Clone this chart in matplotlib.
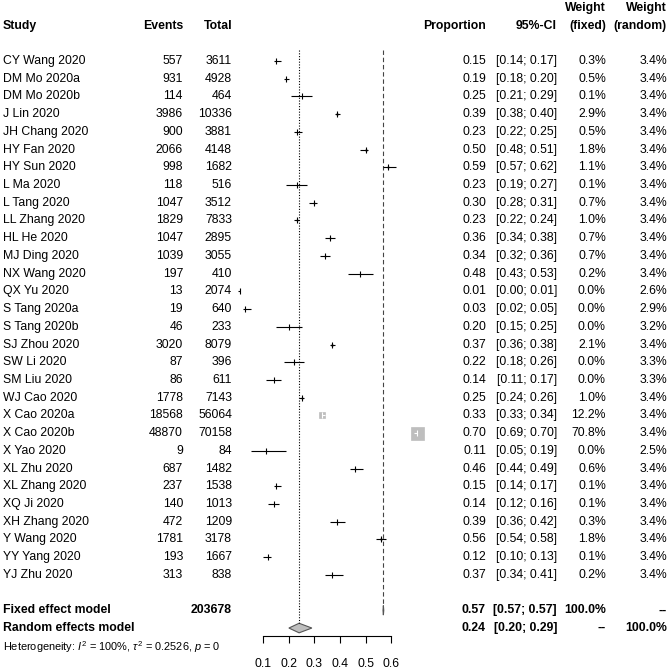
import numpy as np
import matplotlib.pyplot as plt
from matplotlib.patches import Polygon

plt.rcParams['font.family'] = ['Liberation Sans', 'DejaVu Sans']
plt.rcParams['mathtext.fontset'] = 'custom'
plt.rcParams['mathtext.rm'] = 'Liberation Sans'
plt.rcParams['mathtext.it'] = 'Liberation Sans:italic'

studies = ["CY Wang 2020", "DM Mo 2020a", "DM Mo 2020b", "J Lin 2020", "JH Chang 2020",
           "HY Fan 2020", "HY Sun 2020", "L Ma 2020", "L Tang 2020", "LL Zhang 2020",
           "HL He 2020", "MJ Ding 2020", "NX Wang 2020", "QX Yu 2020", "S Tang 2020a",
           "S Tang 2020b", "SJ Zhou 2020", "SW Li 2020", "SM Liu 2020", "WJ Cao 2020",
           "X Cao 2020a", "X Cao 2020b", "X Yao 2020", "XL Zhu 2020", "XL Zhang 2020",
           "XQ Ji 2020", "XH Zhang 2020", "Y Wang 2020", "YY Yang 2020", "YJ Zhu 2020"]
events = [557, 931, 114, 3986, 900, 2066, 998, 118, 1047, 1829, 1047, 1039, 197, 13, 19,
          46, 3020, 87, 86, 1778, 18568, 48870, 9, 687, 237, 140, 472, 1781, 193, 313]
totals = [3611, 4928, 464, 10336, 3881, 4148, 1682, 516, 3512, 7833, 2895, 3055, 410, 2074, 640,
          233, 8079, 396, 611, 7143, 56064, 70158, 84, 1482, 1538, 1013, 1209, 3178, 1667, 838]
prop = [0.15, 0.19, 0.25, 0.39, 0.23, 0.50, 0.59, 0.23, 0.30, 0.23, 0.36, 0.34, 0.48, 0.01, 0.03,
        0.20, 0.37, 0.22, 0.14, 0.25, 0.33, 0.70, 0.11, 0.46, 0.15, 0.14, 0.39, 0.56, 0.12, 0.37]
lower = [0.14, 0.18, 0.21, 0.38, 0.22, 0.48, 0.57, 0.19, 0.28, 0.22, 0.34, 0.32, 0.43, 0.00, 0.02,
         0.15, 0.36, 0.18, 0.11, 0.24, 0.33, 0.69, 0.05, 0.44, 0.14, 0.12, 0.36, 0.54, 0.10, 0.34]
upper = [0.17, 0.20, 0.29, 0.40, 0.25, 0.51, 0.62, 0.27, 0.31, 0.24, 0.38, 0.36, 0.53, 0.01, 0.05,
         0.25, 0.38, 0.26, 0.17, 0.26, 0.34, 0.70, 0.19, 0.49, 0.17, 0.16, 0.42, 0.58, 0.13, 0.41]
w_fixed = [0.3, 0.5, 0.1, 2.9, 0.5, 1.8, 1.1, 0.1, 0.7, 1.0, 0.7, 0.7, 0.2, 0.0, 0.0,
           0.0, 2.1, 0.0, 0.0, 1.0, 12.2, 70.8, 0.0, 0.6, 0.1, 0.1, 0.3, 1.8, 0.1, 0.2]
w_random = [3.4, 3.4, 3.4, 3.4, 3.4, 3.4, 3.4, 3.4, 3.4, 3.4, 3.4, 3.4, 3.4, 2.6, 2.9,
            3.2, 3.4, 3.3, 3.3, 3.4, 3.4, 3.4, 2.5, 3.4, 3.4, 3.4, 3.4, 3.4, 3.4, 3.4]

total_n = 203678
fixed_est, fixed_lo, fixed_hi = 0.57, 0.57, 0.57
rand_est, rand_lo, rand_hi = 0.24, 0.20, 0.29
het_text = r"Heterogeneity: $I^2$ = 100%, $\tau^2$ = 0.2526, $p$ = 0"
xticks = [0.1, 0.2, 0.3, 0.4, 0.5, 0.6]

# layout (pixels)
W, H = 669, 671
row0, step = 61, 17.72
def prow(p):
    return (p - row0) / step

fig = plt.figure(figsize=(W / 100, H / 100), dpi=100)

# text layer
tx = fig.add_axes([0, 0, 1, 1])
tx.set_xlim(0, W)
tx.set_ylim(prow(H), prow(0))
tx.axis('off')

fs = 8.8
n = len(studies)
r_fixed, r_rand, r_het = n + 1, n + 2, n + 3

col_events, col_total, col_prop, col_ci, col_wf, col_wr = 183, 232, 486, 557, 606, 667

hdr = dict(fontsize=fs, fontweight='bold', va='center')
tx.text(3, -2, "Study", ha='left', **hdr)
tx.text(col_events, -2, "Events", ha='right', **hdr)
tx.text(col_total, -2, "Total", ha='right', **hdr)
tx.text(col_prop, -2, "Proportion", ha='right', **hdr)
tx.text(col_ci, -2, "95%-CI", ha='right', **hdr)
tx.text(col_wf, -3, "Weight", ha='right', **hdr)
tx.text(col_wf, -2, "(fixed)", ha='right', **hdr)
tx.text(col_wr, -3, "Weight", ha='right', **hdr)
tx.text(col_wr, -2, "(random)", ha='right', **hdr)

for i in range(n):
    kw = dict(fontsize=fs, va='center')
    tx.text(3, i, studies[i], ha='left', **kw)
    tx.text(col_events, i, f"{events[i]}", ha='right', **kw)
    tx.text(col_total, i, f"{totals[i]}", ha='right', **kw)
    tx.text(col_prop, i, f"{prop[i]:.2f}", ha='right', **kw)
    tx.text(col_ci, i, f"[{lower[i]:.2f}; {upper[i]:.2f}]", ha='right', **kw)
    tx.text(col_wf, i, f"{w_fixed[i]:.1f}%", ha='right', **kw)
    tx.text(col_wr, i, f"{w_random[i]:.1f}%", ha='right', **kw)

tx.text(3, r_fixed, "Fixed effect model", ha='left', **hdr)
tx.text(col_total, r_fixed, f"{total_n}", ha='right', **hdr)
tx.text(col_prop, r_fixed, f"{fixed_est:.2f}", ha='right', **hdr)
tx.text(col_ci, r_fixed, f"[{fixed_lo:.2f}; {fixed_hi:.2f}]", ha='right', **hdr)
tx.text(col_wf, r_fixed, "100.0%", ha='right', **hdr)
tx.text(col_wr, r_fixed, "--", ha='right', **hdr)

tx.text(3, r_rand, "Random effects model", ha='left', **hdr)
tx.text(col_prop, r_rand, f"{rand_est:.2f}", ha='right', **hdr)
tx.text(col_ci, r_rand, f"[{rand_lo:.2f}; {rand_hi:.2f}]", ha='right', **hdr)
tx.text(col_wf, r_rand, "--", ha='right', **hdr)
tx.text(col_wr, r_rand, "100.0%", ha='right', **hdr)

tx.text(3, r_het + 0.1, het_text, ha='left', va='center', fontsize=7.9)

# forest panel
x0_px, scale = 237.8, 255.4
left_px, right_px, top_px, bot_px = 225, 430, 40, 636
ax = fig.add_axes([left_px / W, (H - bot_px) / H, (right_px - left_px) / W, (bot_px - top_px) / H])
ax.set_xlim((left_px - x0_px) / scale, (right_px - x0_px) / scale)
ax.set_ylim(prow(bot_px), prow(top_px))
ax.patch.set_alpha(0)
for s in ['top', 'left', 'right']:
    ax.spines[s].set_visible(False)
ax.spines['bottom'].set_bounds(xticks[0], xticks[-1])
ax.spines['bottom'].set_linewidth(0.8)
ax.set_yticks([])
ax.set_xticks(xticks)
ax.set_xticklabels([f"{t:.1f}" for t in xticks])
ax.tick_params(axis='x', length=5, width=0.8, pad=11, labelsize=8.8)

# reference lines
ax.vlines(fixed_est, -0.6, r_fixed - 0.3, colors='#444444', linestyles=(0, (4, 2.5)), lw=0.8)
ax.vlines(rand_est, -0.6, r_rand - 0.3, colors='black', linestyles=(0, (1, 1.5)), lw=0.8)

max_side = 13 * 0.72  # points
for i in range(n):
    side = max_side * np.sqrt(w_fixed[i] / max(w_fixed))
    half = side / 0.72 / 2 / scale
    inside = (upper[i] - lower[i]) / 2 < half
    c = 'white' if inside else 'black'
    if w_fixed[i] > 0:
        ax.plot(prop[i], i, marker='s', ms=side, color='#BEBEBE', mec='#BEBEBE', mew=0.5,
                ls='none', clip_on=False)
    ax.hlines(i, lower[i], upper[i], colors=c, lw=0.8, clip_on=False)
    ax.plot(prop[i], i, marker='|', ms=4.5, mew=0.8, color=c, ls='none', clip_on=False)

dh = 0.27
ax.add_patch(Polygon([(fixed_lo - 0.0015, r_fixed), (fixed_est, r_fixed - dh),
                      (fixed_hi + 0.0015, r_fixed), (fixed_est, r_fixed + dh)],
                     closed=True, fc='#BEBEBE', ec='#555555', lw=0.8, clip_on=False))
ax.add_patch(Polygon([(rand_lo, r_rand), (rand_est, r_rand - dh),
                      (rand_hi, r_rand), (rand_est, r_rand + dh)],
                     closed=True, fc='#BEBEBE', ec='#555555', lw=0.8, clip_on=False))

plt.savefig("out.png", dpi=100)
